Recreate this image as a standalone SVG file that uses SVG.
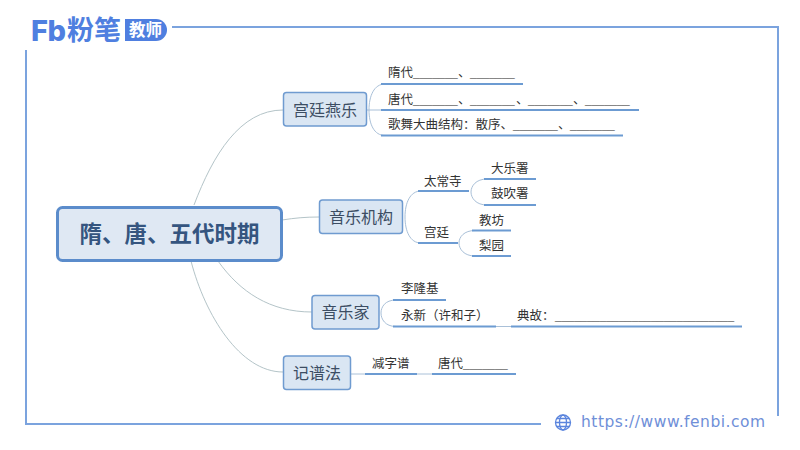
<svg xmlns="http://www.w3.org/2000/svg" width="800" height="450" viewBox="0 0 800 450">
<style>
text{font-family:"Liberation Sans","Noto Sans CJK SC",sans-serif;fill:#333;font-size:12.5px}
.frame{fill:none;stroke:#7ba3de;stroke-width:2}
.box{fill:#dae6f3;stroke:#6f9bd0;stroke-width:1.5}
.t1{font-size:16px;fill:#3c4d63;text-anchor:middle}
.c{fill:none;stroke:#b4c4c8;stroke-width:1}
.c2{fill:none;stroke:#a9c0d8;stroke-width:1}
.u{stroke:#6c9bd2;stroke-width:2;fill:none}
.b{font-size:11.5px;fill:#666}
</style>
<rect width="800" height="450" fill="#fff"/>
<g id="frame">
<path class="frame" d="M172 27H778V416"/>
<path class="frame" d="M26 50V424H541" />
</g>
<g id="logo">
<text x="31" y="41" style="font-family:Inter,sans-serif;font-size:29px;font-weight:800;fill:#4f7fe0;letter-spacing:-.5px">Fb</text>
<text x="67" y="40" style="font-size:27px;font-weight:700;fill:#4f7fe0">粉笔</text>
<path d="M125 19H156A11 11 0 0 1 156 41H125Z" fill="#4f7fe0"/>
<text x="129" y="36" style="font-size:16.5px;font-weight:700;fill:#fff">教师</text>
</g>
<g id="connectors">
<path class="c" d="M194 205C213 155 240 110 283 110"/>
<path class="c" d="M282 220C295 218 305 217 319 217"/>
<path class="c" d="M218 261C240 292 270 312 312 312"/>
<path class="c" d="M191 261C205 315 240 372 283 372"/>
<path class="c2" d="M369 110C369 96 374 84 385 84"/>
<path class="c2" d="M367 110H381"/>
<path class="c2" d="M369 110C369 124 374 135.500 385 135.500"/>
<path class="c2" d="M405 217C405 203 410 191 421 191"/>
<path class="c2" d="M405 217C405 231 410 243 421 243"/>
<path class="c2" d="M471 192C471 186 476 179 487 179"/>
<path class="c2" d="M471 192C471 198 476 205 487 205"/>
<path class="c2" d="M459 243C459 237 464 230.500 475 230.500"/>
<path class="c2" d="M459 243C459 249 464 256 475 256"/>
<path class="c2" d="M381 313C381 307 385 300 396 300"/>
<path class="c2" d="M381 313C381 319 385 326.500 396 326.500"/>
<path class="c2" d="M496 326.500H511"/>
<path class="c2" d="M351 374H365"/>
<path class="c2" d="M417 374H432"/>
</g>
<g id="root">
<rect x="57.500" y="207.500" width="224" height="53" rx="5" fill="#dfe8f3" stroke="#5b8ccb" stroke-width="3"/>
<text x="169.500" y="242" style="font-size:22.500px;font-weight:700;fill:#35557f;text-anchor:middle">隋、唐、五代时期</text>
</g>
<g id="n-gongting"><rect class="box" x="283.500" y="92.500" width="83" height="33.500" rx="3"/><text class="t1" x="325" y="116">宫廷燕乐</text></g>
<g id="n-jigou"><rect class="box" x="319.500" y="200" width="83" height="33.500" rx="3"/><text class="t1" x="361" y="223">音乐机构</text></g>
<g id="n-yinyuejia"><rect class="box" x="312" y="295.500" width="67" height="33.500" rx="3"/><text class="t1" x="345.500" y="318">音乐家</text></g>
<g id="n-jipu"><rect class="box" x="283.500" y="356" width="67" height="33.500" rx="3"/><text class="t1" x="317" y="379">记谱法</text></g>
<g id="s-sui"><path class="u" d="M381 84H523"/><text x="388" y="77">隋代<tspan class="b" x="413">_______</tspan><tspan x="458">、</tspan><tspan class="b" x="470">_______</tspan></text></g>
<g id="s-tang"><path class="u" d="M381 110H639"/><text x="388" y="103.500">唐代<tspan class="b" x="413">_______</tspan><tspan x="458">、</tspan><tspan class="b" x="470">_______</tspan><tspan x="516">、</tspan><tspan class="b" x="528">_______</tspan><tspan x="573">、</tspan><tspan class="b" x="585">_______</tspan></text></g>
<g id="s-gewu"><path class="u" d="M381 135.500H623"/><text x="388" y="128.500">歌舞大曲结构：散序、<tspan class="b" x="513">_______</tspan><tspan x="558">、</tspan><tspan class="b" x="570">_______</tspan></text></g>
<g id="s-taichang"><path class="u" d="M418 191H469"/><text x="424" y="185.500">太常寺</text></g>
<g id="s-dayue"><path class="u" d="M484 179H536"/><text x="491" y="172.500">大乐署</text></g>
<g id="s-guchui"><path class="u" d="M484 205H536"/><text x="491" y="198">鼓吹署</text></g>
<g id="s-gong"><path class="u" d="M418 243H458"/><text x="424" y="236.500">宫廷</text></g>
<g id="s-jiaofang"><path class="u" d="M472 230.500H511"/><text x="479" y="224.500">教坊</text></g>
<g id="s-liyuan"><path class="u" d="M472 256H511"/><text x="479" y="249.500">梨园</text></g>
<g id="s-li"><path class="u" d="M393 300H446"/><text x="401" y="293">李隆基</text></g>
<g id="s-yong"><path class="u" d="M393 326.500H496"/><text x="401" y="319.500">永新（许和子）</text></g>
<g id="s-diangu"><path class="u" d="M511 326.500H742"/><text x="517" y="319.500">典故：<tspan class="b" x="555">____________________________</tspan></text></g>
<g id="s-jianzi"><path class="u" d="M365 374H417"/><text x="372" y="367.500">减字谱</text></g>
<g id="s-tang2"><path class="u" d="M432 374H516"/><text x="438" y="367.500">唐代<tspan class="b" x="463">_______</tspan></text></g>
<g id="footer">
<g fill="none" stroke="#5b85dd" stroke-width="1.300"><circle cx="563" cy="422.500" r="7.500"/><ellipse cx="563" cy="422.500" rx="3.500" ry="7.500"/><path d="M555.500 422.500H570.500M556.500 418.500H569.500M556.500 426.500H569.500"/></g>
<text x="581" y="427" style="font-family:'DejaVu Sans',sans-serif;font-size:15.500px;fill:#6f8fd8;letter-spacing:.5px">https://www.fenbi.com</text>
</g>
</svg>
